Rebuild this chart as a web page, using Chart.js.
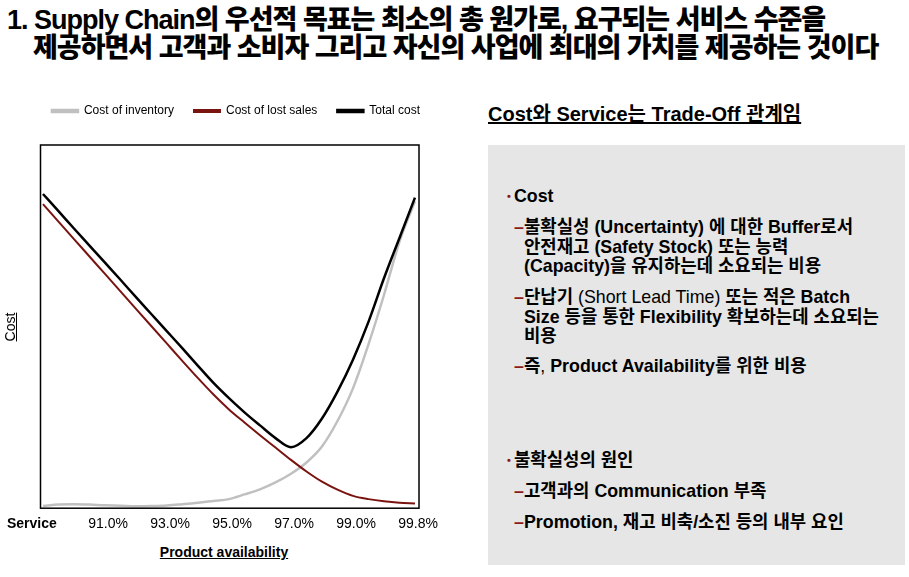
<!DOCTYPE html>
<html lang="ko">
<head>
<meta charset="utf-8">
<title>Supply Chain - Cost vs Service</title>
<script src="https://cdn.jsdelivr.net/npm/chart.js@4.4.1/dist/chart.umd.min.js"></script>
<style>
  body {
    margin: 0;
    width: 909px;
    height: 577px;
    position: relative;
    overflow: hidden;
    background: #fff;
    color: #000;
    font-family: "Liberation Sans", Arial, "Noto Sans CJK KR", sans-serif;
  }
  .abs { position: absolute; white-space: nowrap; }
  #title { left: 7px; top: 6px; font-size: 27px; line-height: 28px; font-weight: 900; letter-spacing: -1px; }
  #title .l2 { padding-left: 26px; }
  #chartBox { left: 0; top: 85px; width: 460px; height: 458px; }
  #yTitle { left: -10px; top: 318px; width: 40px; height: 18px; line-height: 18px; font-size: 14px;
            text-align: center; text-decoration: underline; transform: rotate(-90deg); }
  #service { left: 7px; top: 515px; font-size: 14px; line-height: 17px; font-weight: bold; }
  #xTitle { left: 124px; top: 544px; width: 200px; text-align: center; font-size: 14px; line-height: 17px;
            font-weight: bold; text-decoration: underline; }
  #rightTitle { left: 488px; top: 103px; font-size: 20px; line-height: 22px; font-weight: bold; text-decoration: underline; }
  #panel { left: 488px; top: 145px; width: 417px; height: 420px; background: #e6e6e6; }
  .pt { left: 514px; font-size: 17.8px; line-height: 19.5px; font-weight: bold; }
  .sub { left: 524px; }
  .dot { display: inline-block; width: 7px; margin-left: -7px; font-size: 11px; color: #8b1a1a; vertical-align: 2px; }
  .dash { display: inline-block; width: 10px; margin-left: -10px; color: #8b1a1a; }
  .nb { font-weight: normal; }
</style>
</head>
<body>

<div id="title" class="abs">1. Supply Chain의 우선적 목표는 최소의 총 원가로, 요구되는 서비스 수준을<br><span class="l2">제공하면서 고객과 소비자 그리고 자신의 사업에 최대의 가치를 제공하는 것이다</span></div>

<div id="chartBox" class="abs"><canvas id="costChart"></canvas></div>
<div id="yTitle" class="abs">Cost</div>
<div id="service" class="abs">Service</div>
<div id="xTitle" class="abs">Product availability</div>

<div id="rightTitle" class="abs">Cost와 Service는 Trade-Off 관계임</div>
<div id="panel" class="abs"></div>
<div class="abs pt" style="top:187px"><span class="dot">•</span>Cost</div>
<div class="abs pt sub" style="top:218px"><span class="dash">–</span>불확실성 (Uncertainty) 에 대한 Buffer로서<br>안전재고 (Safety Stock) 또는 능력<br>(Capacity)을 유지하는데 소요되는 비용</div>
<div class="abs pt sub" style="top:288px"><span class="dash">–</span>단납기 <span class="nb">(Short Lead Time)</span> 또는 적은 Batch<br>Size 등을 통한 Flexibility 확보하는데 소요되는<br>비용</div>
<div class="abs pt sub" style="top:357px"><span class="dash">–</span>즉<span class="nb">,</span> Product Availability를 위한 비용</div>
<div class="abs pt" style="top:451px"><span class="dot">•</span>불확실성의 원인</div>
<div class="abs pt sub" style="top:482px"><span class="dash">–</span>고객과의 Communication 부족</div>
<div class="abs pt sub" style="top:513px"><span class="dash">–</span>Promotion, 재고 비축/소진 등의 내부 요인</div>

<script>
const serviceLabels = ['91.0%', '93.0%', '95.0%', '97.0%', '99.0%', '99.8%'];
const seriesNames = ['Cost of inventory', 'Cost of lost sales', 'Total cost'];

// sample points along the availability axis (4 steps between two labels)
const steps = [0, 1, 2, 3, 4, 5, 6, 7, 8, 9, 10, 11, 12, 13, 14, 15, 16, 17, 18, 19, 20, 21, 22, 23, 24];
const inventoryCost = [0.6, 1.0, 1.1, 1.0, 0.8, 0.7, 0.55, 0.6, 0.75, 1.1, 1.5, 2.0, 2.5, 3.8, 5.2, 7.1, 9.5, 12.6, 17.0, 24.0, 33.0, 45.1, 58.7, 73.4, 84.5];
const lostSalesCost = [83.7, 78.9, 74.1, 69.3, 64.5, 59.7, 54.9, 50.1, 45.3, 40.5, 35.8, 31.3, 27.2, 23.6, 20.1, 16.7, 13.3, 10.1, 7.3, 5.1, 3.4, 2.5, 1.9, 1.5, 1.3];
const totalCost = [86.5, 81.8, 77.0, 72.3, 67.6, 62.9, 58.1, 53.4, 48.7, 44.0, 39.2, 34.5, 30.3, 26.4, 22.8, 19.3, 16.8, 19.3, 24.7, 32.1, 40.9, 51.3, 63.3, 74.4, 85.5];

const tickAt = serviceLabels.map((_, k) => 4.2 + 4 * k);

Chart.defaults.font.family = '"Liberation Sans", Arial, sans-serif';
Chart.defaults.color = '#000';

// full box around the plot
const frame = {
    id: 'frame',
    afterDatasetsDraw(chart) {
        const {ctx, chartArea: a} = chart;
        ctx.save();
        ctx.strokeStyle = '#000';
        ctx.lineWidth = 1.5;
        ctx.strokeRect(a.left, a.top, a.right - a.left, a.bottom - a.top);
        ctx.restore();
    }
};

// leave room between legend and plot
const legendGap = {
    id: 'legendGap',
    beforeInit(chart) {
        const fit = chart.legend.fit;
        chart.legend.fit = function () {
            fit.call(this);
            this.height += 18;
        };
    }
};

new Chart(document.getElementById('costChart'), {
    type: 'line',
    data: {
        labels: steps,
        datasets: [
            { label: seriesNames[0], data: inventoryCost, borderColor: '#c0c0c0', backgroundColor: '#c0c0c0', borderWidth: 2.5, order: 2 },
            { label: seriesNames[1], data: lostSalesCost, borderColor: '#7a1410', backgroundColor: '#7a1410', borderWidth: 2, order: 1 },
            { label: seriesNames[2], data: totalCost, borderColor: '#000000', backgroundColor: '#000000', borderWidth: 2.5, order: 0 }
        ]
    },
    options: {
        responsive: true,
        maintainAspectRatio: false,
        animation: false,
        layout: { padding: { left: 20, right: 8, top: 0, bottom: 2 } },
        elements: {
            point: { radius: 0 },
            line: { cubicInterpolationMode: 'monotone' }
        },
        plugins: {
            legend: {
                labels: {
                    boxWidth: 26,
                    boxHeight: 2,
                    padding: 20,
                    color: '#000',
                    font: { size: 12 },
                    sort: (a, b) => a.datasetIndex - b.datasetIndex
                }
            },
            tooltip: { enabled: false }
        },
        scales: {
            x: {
                type: 'linear',
                min: -0.16,
                max: 24.26,
                grid: { display: false, drawTicks: false },
                border: { display: false },
                afterBuildTicks: scale => { scale.ticks = tickAt.map(v => ({ value: v })); },
                ticks: {
                    autoSkip: false,
                    maxRotation: 0,
                    padding: 8,
                    font: { size: 14 },
                    callback: (value, i) => serviceLabels[i]
                }
            },
            y: {
                min: 0,
                max: 100,
                grid: { display: false, drawTicks: false },
                border: { display: false },
                ticks: { display: false },
                afterFit: scale => { scale.width = 20.5; }
            },
            yRight: {
                position: 'right',
                grid: { display: false, drawTicks: false },
                border: { display: false },
                ticks: { display: false },
                afterFit: scale => { scale.width = 33; }
            }
        }
    },
    plugins: [legendGap, frame]
});
</script>
</body>
</html>
